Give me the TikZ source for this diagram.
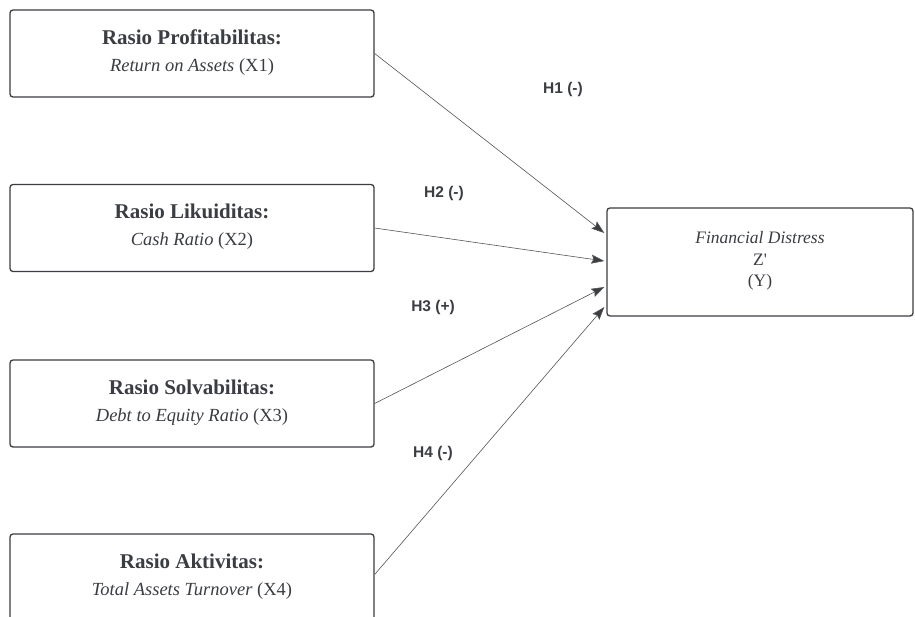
\documentclass[tikz,border=0pt]{standalone}
\usepackage{fontspec}
\setmainfont{Liberation Serif}
\newfontfamily\labelfont{Liberation Sans}
\usetikzlibrary{arrows.meta,calc}
\definecolor{ink}{HTML}{3A3D42}
\definecolor{linec}{HTML}{555555}
\newcommand{\ttl}[1]{{\fontsize{21}{27}\selectfont\textbf{#1}}}
\newcommand{\dpfix}{\rule[-6pt]{0pt}{6pt}}
\tikzset{
  varbox/.style={draw=ink, line width=1.3pt, rounded corners=3pt, fill=white,
    minimum width=364pt, minimum height=87pt, inner sep=0pt, align=center,
    text=ink, font=\fontsize{18.5}{27}\selectfont},
  ybox/.style={varbox, minimum width=306pt, minimum height=108pt,
    font=\fontsize{17.5}{21.5}\selectfont},
  conn/.style={draw=linec, line width=0.6pt,
    -{Stealth[length=13pt,width=9pt,inset=2pt,fill=ink]}},
  hlabel/.style={text=ink, font=\labelfont\bfseries\fontsize{15.5}{18}\selectfont}
}
\begin{document}
\begin{tikzpicture}[x=1pt,y=-1pt]
\useasboundingbox (0,0) rectangle (915,616);
\clip (0,0) rectangle (915,616);
\fill[white] (0,0) rectangle (915,616);
\node[varbox] (b1) at (192,53.5) {\ttl{Rasio Profitabilitas:}\\\textit{Return on Assets} (X1)\dpfix};
\node[varbox] (b2) at (192,228) {\ttl{Rasio Likuiditas:}\\\textit{Cash Ratio} (X2)\dpfix};
\node[varbox] (b3) at (192,403.5) {\ttl{Rasio Solvabilitas:}\\\textit{Debt to Equity Ratio} (X3)\dpfix};
\node[varbox] (b4) at (192,577.5) {\ttl{Rasio Aktivitas:}\\\textit{Total Assets Turnover} (X4)\dpfix};
\node[ybox] (Y) at (760,262) {\textit{Financial Distress}\\Z\textquotesingle\\(Y)\dpfix};
\draw[conn] (b1.east) -- ($(Y.west)+(-2,-29)$);
\draw[conn] (b2.east) -- ($(Y.west)+(-2,-1)$);
\draw[conn] (b3.east) -- ($(Y.west)+(-2,25)$);
\draw[conn] ($(b4.east)+(0,-3)$) -- ($(Y.west)+(-2,45)$);
\node[hlabel] (h1) at (563,89) {H1 (-)};
\node[hlabel] (h2) at (444,193) {H2 (-)};
\node[hlabel] (h3) at (433,307) {H3 (+)};
\node[hlabel] (h4) at (433,453) {H4 (-)};
\end{tikzpicture}
\end{document}
